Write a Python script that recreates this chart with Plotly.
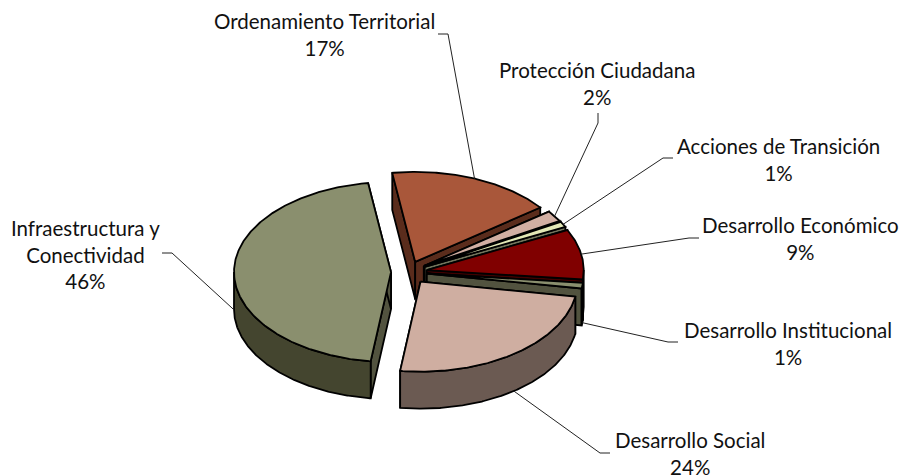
import numpy as np
import plotly.graph_objects as go

# ---- data ----
categories = ["Ordenamiento Territorial", "Protección Ciudadana", "Acciones de Transición",
              "Desarrollo Económico", "Desarrollo Institucional", "Desarrollo Social",
              "Infraestructura y<br>Conectividad"]
values = [17.0, 2.0, 1.0, 9.0, 1.0, 24.4, 45.6]

# ---- styles ----
top_colors = ["#A9573A", "#D2AFA3", "#E3E8B6", "#800000", "#8A8F6E", "#CFAEA1", "#8A8F6E"]
edge_colors = ["#5A2C1C", "#6B5A52", "#71745B", "#400000", "#52533F", "#6B5A52", "#52533F"]
wall_colors = ["#5A2C1C", "#6B5A52", "#71745B", "#200000", "#44452F", "#6B5A52", "#44452F"]
explode = [19, 19, 19, 19, 19, 21, 17]

# ---- pie projection (page pixels) ----
CX, CY, A, B, DEPTH = 408.0, 272.0, 157.0, 90.0, 37.0
START_DEG = -8.4


def pt(deg, ox=0.0, oy=0.0):
    t = np.radians(deg)
    return ox + A * np.sin(t), oy - B * np.cos(t)


def poly(fig, xs, ys, color, width=1.8):
    fig.add_trace(go.Scatter(x=list(xs), y=list(ys), mode="lines", fill="toself", fillcolor=color,
                             line=dict(color="black", width=width), hoverinfo="skip", showlegend=False))


fig = go.Figure()
total = sum(values)
ang = START_DEG
anchors = []
for i, v in enumerate(values):
    sweep = 360.0 * v / total
    a0, a1 = ang, ang + sweep
    ang = a1
    mid = (a0 + a1) / 2
    ox = CX + explode[i] * np.sin(np.radians(mid))
    oy = CY - explode[i] * B / A * np.cos(np.radians(mid))
    arc = np.linspace(a0, a1, max(4, int(sweep * 2)))
    ax, ay = pt(arc, ox, oy)
    for d in (a0, a1):
        ex, ey = pt(d, ox, oy)
        poly(fig, [ox, ex, ex, ox, ox], [oy, ey, ey + DEPTH, oy + DEPTH, oy], edge_colors[i])
    lo, hi = max(a0, 90.0), min(a1, 270.0)
    if hi > lo:
        w = np.linspace(lo, hi, 200)
        wx, wy = pt(w, ox, oy)
        poly(fig, np.r_[wx, wx[::-1], wx[0]], np.r_[wy, wy[::-1] + DEPTH, wy[0]], wall_colors[i])
    poly(fig, np.r_[ox, ax, ox], np.r_[oy, ay, oy], top_colors[i])
    anchors.append((mid, ox, oy))

# ---- labels and leader lines ----
label_xy = [(324, 34.5), (597, 83.5), (778, 159.5), (800, 238.5), (787.5, 343), (690, 453.5), (85, 254.5)]
elbows = [[(438, 34), (448, 34)], [(598, 113), (598, 123)], [(673, 158), (663, 158)],
          [(699, 238), (689, 238)], [(678, 342), (668, 342)], [(610, 453), (600, 453)],
          [(162, 253), (172, 253)]]
for i, (mid, ox, oy) in enumerate(anchors):
    hx, hy = pt(mid, ox, oy)
    if 90 < mid < 270:
        hy += DEPTH
    pts = elbows[i] + [(hx, hy)]
    fig.add_trace(go.Scatter(x=[p[0] for p in pts], y=[p[1] for p in pts], mode="lines",
                             line=dict(color="#222222", width=1), hoverinfo="skip", showlegend=False))
    fig.add_annotation(x=label_xy[i][0], y=label_xy[i][1], xref="x", yref="y", showarrow=False,
                       text=f"{categories[i]}<br>{round(values[i])}%", align="center",
                       font=dict(family="Lato", size=20.5, color="#111111"))

fig.update_layout(width=901, height=476, margin=dict(l=0, r=0, t=0, b=0),
                  paper_bgcolor="white", plot_bgcolor="white", showlegend=False,
                  xaxis=dict(range=[0, 901], visible=False, fixedrange=True),
                  yaxis=dict(range=[476, 0], visible=False, fixedrange=True))
fig.write_html("out.html", config={"displayModeBar": False},
               post_script="document.body.style.margin='0';document.documentElement.style.overflow='hidden';")
